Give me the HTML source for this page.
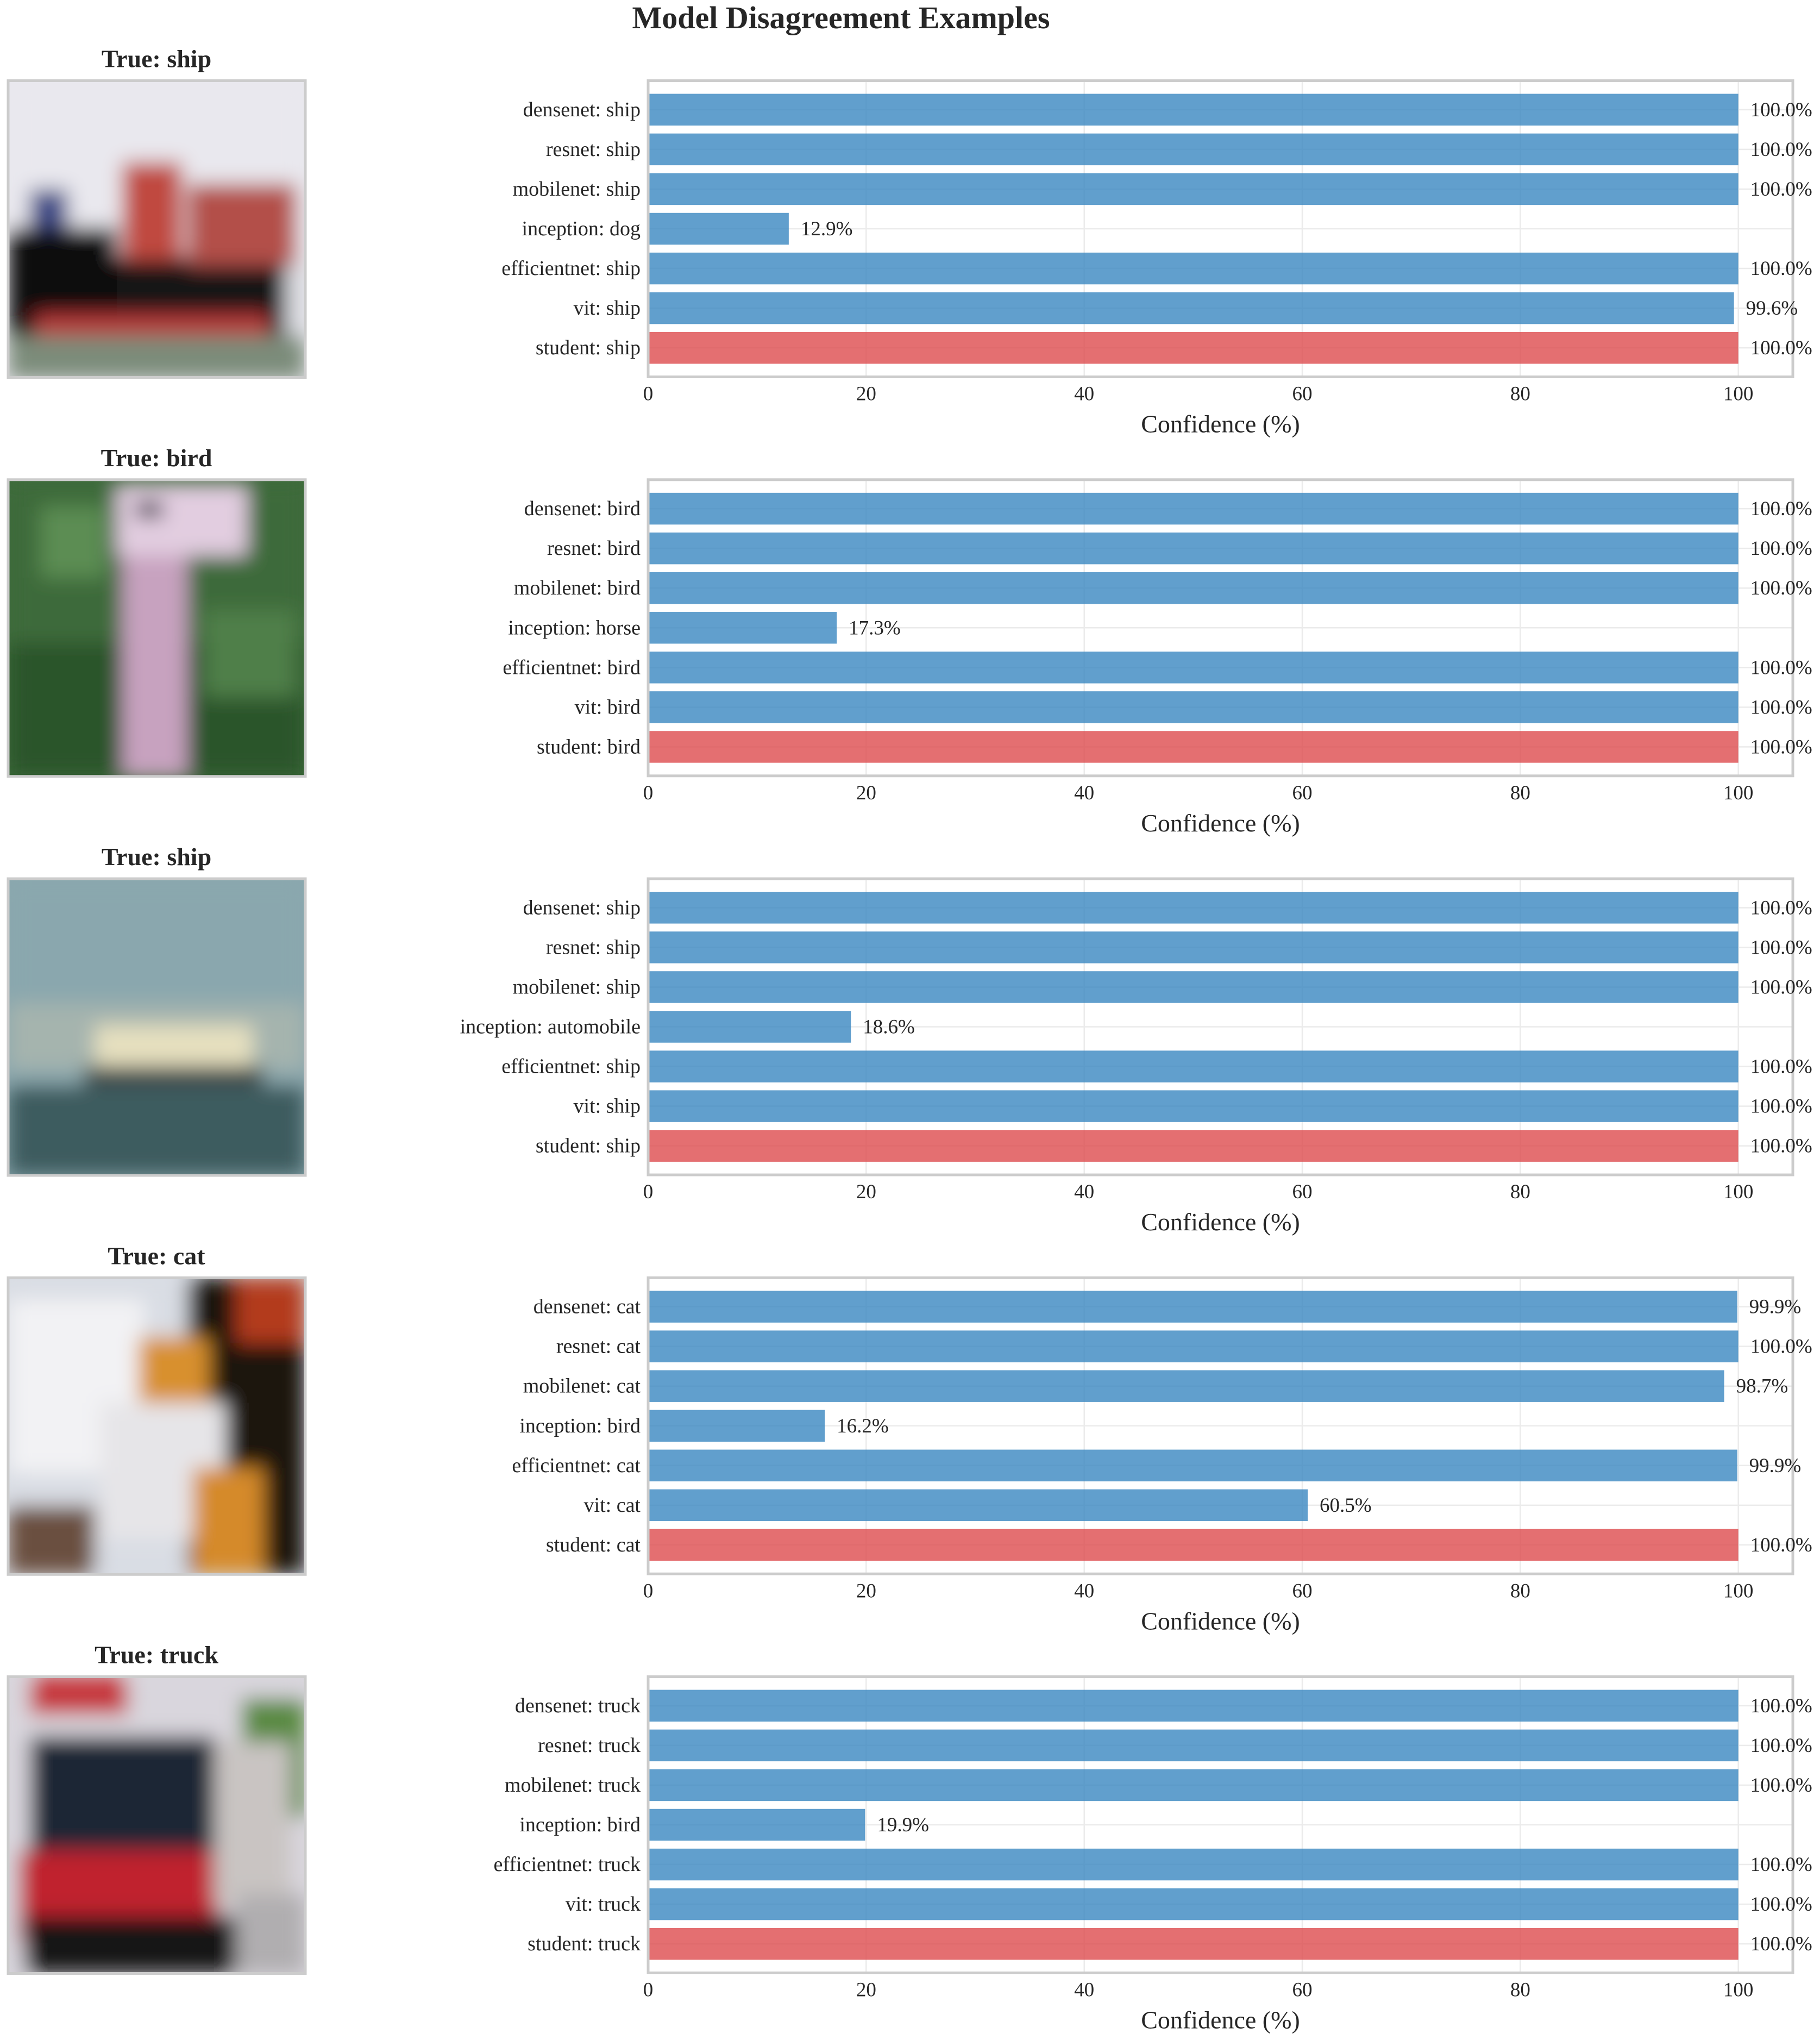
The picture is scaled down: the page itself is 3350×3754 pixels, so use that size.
<!DOCTYPE html>
<html><head><meta charset="utf-8">
<style>
html,body{margin:0;padding:0;background:#fff;}
svg{display:block;font-family:"Liberation Serif","DejaVu Serif",serif;}
</style></head>
<body>
<svg id="fig" width="3350" height="3754" viewBox="0 0 3350 3754" xmlns="http://www.w3.org/2000/svg">
<defs>
<filter id="blur" x="-5%" y="-5%" width="110%" height="110%"><feGaussianBlur stdDeviation="18"/></filter>
<clipPath id="imgclip"><rect x="0" y="0" width="547" height="546"/></clipPath>
</defs>
<rect width="3350" height="3754" fill="#fff"/>
<text x="1548" y="52" font-size="58" font-weight="bold" text-anchor="middle" fill="#262626">Model Disagreement Examples</text>
<g id="panels"></g>
</svg>
<script>
const trueLabels = ["ship","bird","ship","cat","truck"];
const models = ["densenet","resnet","mobilenet","inception","efficientnet","vit","student"];
const preds1 = ["ship","ship","ship","dog","ship","ship","ship"];
const preds2 = ["bird","bird","bird","horse","bird","bird","bird"];
const preds3 = ["ship","ship","ship","automobile","ship","ship","ship"];
const preds4 = ["cat","cat","cat","bird","cat","cat","cat"];
const preds5 = ["truck","truck","truck","bird","truck","truck","truck"];
const conf1 = [100.0,100.0,100.0,12.9,100.0,99.6,100.0];
const conf2 = [100.0,100.0,100.0,17.3,100.0,100.0,100.0];
const conf3 = [100.0,100.0,100.0,18.6,100.0,100.0,100.0];
const conf4 = [99.9,100.0,98.7,16.2,99.9,60.5,100.0];
const conf5 = [100.0,100.0,100.0,19.9,100.0,100.0,100.0];
const xTicks = [0,20,40,60,80,100];

const preds = [preds1,preds2,preds3,preds4,preds5];
const confs = [conf1,conf2,conf3,conf4,conf5];

const NS = "http://www.w3.org/2000/svg";
const root = document.getElementById('panels');
function mk(tag, attrs, parent){const e=document.createElementNS(NS,tag);for(const k in attrs)e.setAttribute(k,attrs[k]);parent.appendChild(e);return e;}

const imgShapes = [
 [["#e9e8ee",0,0,547,546],["#d9dadf",0,330,547,220],["#121314",30,320,480,150],["#0e0f10",0,270,200,220],["#c04a40",210,150,110,180],["#b3504a",330,190,200,150],["#3c4a86",40,200,70,70],["#b83a3a",50,430,430,60],["#7b8c7a",0,470,547,80]],
 [["#3e6b3b",0,0,547,546],["#2c5529",0,300,547,246],["#5c8d52",60,50,120,130],["#4f7f48",360,240,170,160],["#c7a2bf",210,130,120,420],["#e2cde0",200,10,240,130],["#2a2a3a",235,40,50,30]],
 [["#8aa7ae",0,0,547,546],["#a5b4ae",0,230,547,120],["#e6e0bf",160,270,290,95],["#3f4a48",140,345,330,50],["#3d5b5e",0,380,547,166]],
 [["#d9dde4",0,0,547,546],["#1b1411",330,0,217,546],["#b33a1e",420,0,127,120],["#f2f2f4",0,40,250,320],["#d8902f",240,110,130,130],["#e6e5e8",170,230,230,250],["#d58a2a",340,350,130,196],["#6b5040",0,420,160,126]],
 [["#d9d6dd",0,0,547,546],["#c6353a",40,0,180,70],["#1c2634",40,110,340,220],["#c0232e",20,320,370,170],["#5a8a42",430,40,117,220],["#c9c4c2",380,120,140,300],["#151515",30,440,470,106],["#b0aeb0",420,400,127,146]]
];

const PX0 = 1193, PX1 = 3300, XMAX = 105;
const PH = 545;
function xs(v){return PX0 + (PX1-PX0)*v/XMAX;}

for(let p=0;p<5;p++){
  const T = 148.5 + 734.25*p;
  const g = mk('g',{},root);
  
  
  function ys(k){return T + PH*(k+0.73)/7.46;}
  const bandH = PH/7.46;

  const tt = mk('text',{x:288,y:T-25,'font-size':46,'font-weight':'bold','text-anchor':'middle',fill:'#262626'},g);
  tt.textContent = 'True: '+trueLabels[p];
  
  

  const ig = mk('g',{transform:`translate(15,${T})`},g);
  
  
  const ic = mk('g',{'clip-path':'url(#imgclip)'},ig);
  const shapes = imgShapes[p];
  mk('rect',{x:0,y:0,width:547,height:546,fill:shapes[0][0]},ic);
  const bl = mk('g',{filter:'url(#blur)'},ic);
  shapes.forEach(s=>mk('rect',{x:s[1],y:s[2],width:s[3],height:s[4],fill:s[0]},bl));
  mk('rect',{x:0,y:0,width:547,height:546,fill:'none',stroke:'#cccccc','stroke-width':5},ig);

  xTicks.forEach(t=>{
    const l=mk('line',{x1:xs(t),x2:xs(t),y1:T,y2:T+PH,stroke:'#ebebeb','stroke-width':2.5},g);
    
    
  });
  for(let k=0;k<7;k++){
    const cy = ys(k);
    const hl = mk('line',{x1:PX0,x2:PX1,y1:cy,y2:cy,stroke:'#ebebeb','stroke-width':2.5},g);
    
    
  }
  const fr = mk('rect',{x:PX0,y:T,width:PX1-PX0,height:PH,fill:'none',stroke:'#cccccc','stroke-width':5},g);
  
  
  for(let k=0;k<7;k++){
    const cy = ys(k);
    const v = confs[p][k];
    const b = mk('rect',{x:xs(0)+2.5,y:cy-0.4*bandH,width:xs(v)-xs(0)-2.5,height:0.8*bandH,fill:k===6?'#dd4b4e':'#3a87c0','fill-opacity':0.8},g);
    
    
    const lab = mk('text',{x:PX0-14,y:cy+12,'font-size':38,'text-anchor':'end',fill:'#262626'},g);
    lab.textContent = models[k]+': '+preds[p][k];
    
    
    const vl = mk('text',{x:xs(v)+22,y:cy+12,'font-size':37,fill:'#262626'},g);
    vl.textContent = v.toFixed(1)+'%';
    
    
  }
  xTicks.forEach(t=>{
    const tl = mk('text',{x:xs(t),y:T+588,'font-size':37,'text-anchor':'middle',fill:'#262626'},g);
    tl.textContent = String(t);
    
    
  });
  const xl = mk('text',{x:(PX0+PX1)/2,y:T+647,'font-size':46,'text-anchor':'middle',fill:'#262626'},g);
  xl.textContent = 'Confidence (%)';
  
  
}
</script>
</body></html>
